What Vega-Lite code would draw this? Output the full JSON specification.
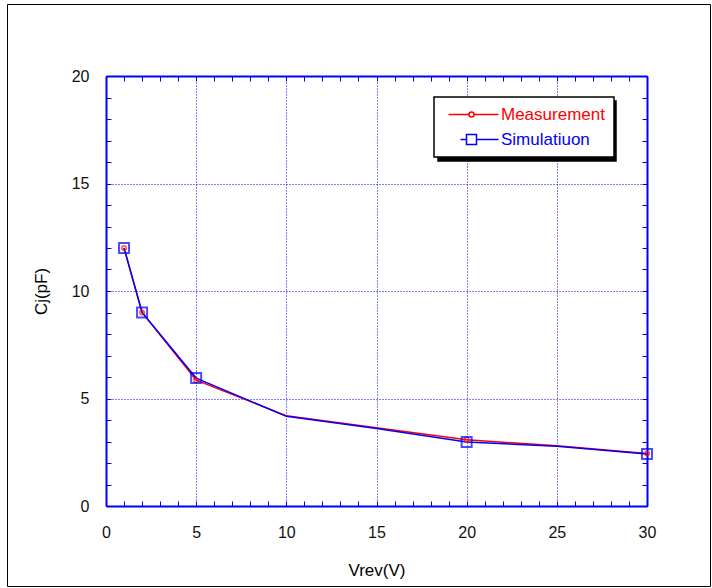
{
  "$schema": "https://vega.github.io/schema/vega-lite/v6.json",
  "width": 541,
  "height": 430,
  "autosize": {"type": "none"},
  "padding": {"left": 106, "top": 76, "right": 65, "bottom": 82},
  "background": "white",
  "config": {"view": {"stroke": null}, "font": "Liberation Sans"},
  "data": {
    "values": [
      {"series": "Measurement", "v": 1, "c": 12.0},
      {"series": "Measurement", "v": 2, "c": 9.0},
      {"series": "Measurement", "v": 5, "c": 5.85},
      {"series": "Measurement", "v": 10, "c": 4.2},
      {"series": "Measurement", "v": 15, "c": 3.64},
      {"series": "Measurement", "v": 20, "c": 3.08},
      {"series": "Measurement", "v": 25, "c": 2.8},
      {"series": "Measurement", "v": 30, "c": 2.44},
      {"series": "Simulatiuon", "v": 1, "c": 12.0},
      {"series": "Simulatiuon", "v": 2, "c": 9.0},
      {"series": "Simulatiuon", "v": 5, "c": 5.95},
      {"series": "Simulatiuon", "v": 10, "c": 4.17},
      {"series": "Simulatiuon", "v": 15, "c": 3.6},
      {"series": "Simulatiuon", "v": 20, "c": 2.98},
      {"series": "Simulatiuon", "v": 25, "c": 2.78},
      {"series": "Simulatiuon", "v": 30, "c": 2.42}
    ]
  },
  "layer": [
    {
      "layer": [
        {
          "mark": {"type": "line", "strokeWidth": 1.5},
          "encoding": {
            "x": {
              "field": "v", "type": "quantitative",
              "scale": {"domain": [0, 30], "nice": false},
              "axis": {
                "orient": "bottom",
                "values": [0,1,2,3,4,5,6,7,8,9,10,11,12,13,14,15,16,17,18,19,20,21,22,23,24,25,26,27,28,29,30],
                "tickCount": 100,
                "format": "d",
                "labelExpr": "datum.value % 5 === 0 ? datum.label : ''",
                "labelOverlap": false,
                "grid": true,
                "gridColor": {"condition": {"test": "datum.value % 5 === 0", "value": "#0000ff"}, "value": "transparent"},
                "gridDash": [1, 2],
                "gridWidth": 1,
                "tickColor": "#0000ff",
                "tickSize": -5,
                "tickWidth": 1,
                "domainColor": "#0000ff",
                "domainWidth": 2,
                "labelColor": "#111111",
                "labelFontSize": 16,
                "labelPadding": 23,
                "labelFlush": false,
                "title": "Vrev(V)",
                "titleFontWeight": "normal",
                "titleFontSize": 17,
                "titleColor": "#000000",
                "titlePadding": 22
              }
            },
            "y": {
              "field": "c", "type": "quantitative",
              "scale": {"domain": [0, 20], "nice": false},
              "axis": {
                "orient": "left",
                "values": [0,1,2,3,4,5,6,7,8,9,10,11,12,13,14,15,16,17,18,19,20],
                "tickCount": 100,
                "format": "d",
                "labelExpr": "datum.value % 5 === 0 ? datum.label : ''",
                "labelOverlap": false,
                "grid": true,
                "gridColor": {"condition": {"test": "datum.value % 5 === 0", "value": "#0000ff"}, "value": "transparent"},
                "gridDash": [1, 2],
                "gridWidth": 1,
                "tickColor": "#0000ff",
                "tickSize": -5,
                "tickWidth": 1,
                "domainColor": "#0000ff",
                "domainWidth": 2,
                "labelColor": "#111111",
                "labelFontSize": 16,
                "labelPadding": 22,
                "labelFlush": false,
                "title": "Cj(pF)",
                "titleFontWeight": "normal",
                "titleFontSize": 17,
                "titleColor": "#000000",
                "titlePadding": 21
              }
            },
            "color": {
              "field": "series", "type": "nominal",
              "scale": {"domain": ["Measurement", "Simulatiuon"], "range": ["#ff0000", "#0000ff"]},
              "legend": {
                "orient": "none",
                "legendX": 328,
                "legendY": 21,
                "zindex": 2,
                "title": null,
                "strokeColor": "#000000",
                "fillColor": "#ffffff",
                "padding": 9,
                "symbolSize": 100,
                "symbolStrokeWidth": 1.5,
                "symbolFillColor": "transparent",
                "labelOffset": 41,
                "labelFontSize": 17,
                "rowPadding": 7,
                "encode": {
                  "legend": {"update": {"strokeWidth": {"value": 1.5}}},
                  "labels": {"update": {"fill": {"signal": "datum.value == 'Measurement' ? '#ff0000' : '#0000ff'"}}},
                  "symbols": {"update": {"shape": {"signal": "datum.value == 'Measurement' ? 'M-0.6,0H3.5M4.5,0H9.4M4.5,0A0.5,0.5 0 1,1 3.5,0A0.5,0.5 0 1,1 4.5,0' : 'M1.8,0H3M5,0H9.4M3,-1H5V1H3Z'"}}}
                }
              }
            }
          }
        },
        {
          "transform": [{"filter": "datum.series == 'Measurement' && datum.v != 10 && datum.v != 15 && datum.v != 25"}],
          "mark": {"type": "point", "shape": "circle", "size": 20, "filled": false, "strokeWidth": 1.5, "color": "#ff0000"},
          "encoding": {
            "x": {"field": "v", "type": "quantitative"},
            "y": {"field": "c", "type": "quantitative"}
          }
        },
        {
          "transform": [{"filter": "datum.series == 'Simulatiuon' && datum.v != 10 && datum.v != 15 && datum.v != 25"}],
          "mark": {"type": "point", "shape": "square", "size": 100, "filled": false, "strokeWidth": 2, "color": "#0000ff"},
          "encoding": {
            "x": {"field": "v", "type": "quantitative"},
            "y": {"field": "c", "type": "quantitative"}
          }
        }
      ]
    },
    {
      "mark": {"type": "line", "opacity": 0},
      "encoding": {
        "x": {
          "field": "v", "type": "quantitative",
          "axis": {
            "orient": "top",
            "values": [0,1,2,3,4,5,6,7,8,9,10,11,12,13,14,15,16,17,18,19,20,21,22,23,24,25,26,27,28,29,30],
            "tickCount": 100,
            "labels": false, "grid": false, "title": null,
            "tickColor": "#0000ff", "tickSize": -5, "tickWidth": 1,
            "domainColor": "#0000ff", "domainWidth": 2
          }
        },
        "y": {
          "field": "c", "type": "quantitative",
          "axis": {
            "orient": "right",
            "values": [0,1,2,3,4,5,6,7,8,9,10,11,12,13,14,15,16,17,18,19,20],
            "tickCount": 100,
            "labels": false, "grid": false, "title": null,
            "tickColor": "#0000ff", "tickSize": -5, "tickWidth": 1,
            "domainColor": "#0000ff", "domainWidth": 2
          }
        },
        "strokeDash": {
          "field": "series", "type": "nominal",
          "scale": {"domain": ["M", "S"]},
          "legend": {
            "orient": "none",
            "legendX": 332,
            "legendY": 25,
            "zindex": 1,
            "title": null,
            "labelExpr": "''",
            "strokeColor": "#000000",
            "fillColor": "#000000",
            "padding": 9,
            "symbolSize": 324,
            "symbolStrokeWidth": 0,
            "symbolFillColor": "#000000",
            "symbolStrokeColor": "#000000",
            "symbolType": "square",
            "labelOffset": 142,
            "labelFontSize": 17,
            "rowPadding": 6,
            "encode": {
              "legend": {"update": {"strokeWidth": {"value": 1.5}}}
            }
          }
        }
      }
    },
    {
      "mark": {"type": "point", "opacity": 0},
      "encoding": {
        "x": {"field": "v", "type": "quantitative", "axis": null},
        "y": {"field": "c", "type": "quantitative", "axis": null},
        "shape": {
          "field": "series", "type": "nominal",
          "scale": {"domain": ["P", "Q"]},
          "legend": {
            "orient": "none",
            "legendX": -99,
            "legendY": -72,
            "zindex": 0,
            "title": null,
            "labelExpr": "''",
            "strokeColor": "#000000",
            "fillColor": "transparent",
            "padding": 0,
            "symbolSize": 400,
            "symbolOpacity": 0,
            "symbolType": "square",
            "labelOffset": 681,
            "labelFontSize": 10,
            "rowPadding": 540,
            "encode": {
              "legend": {"update": {"strokeWidth": {"value": 1.5}}}
            }
          }
        }
      }
    }
  ],
  "resolve": {"axis": {"x": "independent", "y": "independent"}}
}
